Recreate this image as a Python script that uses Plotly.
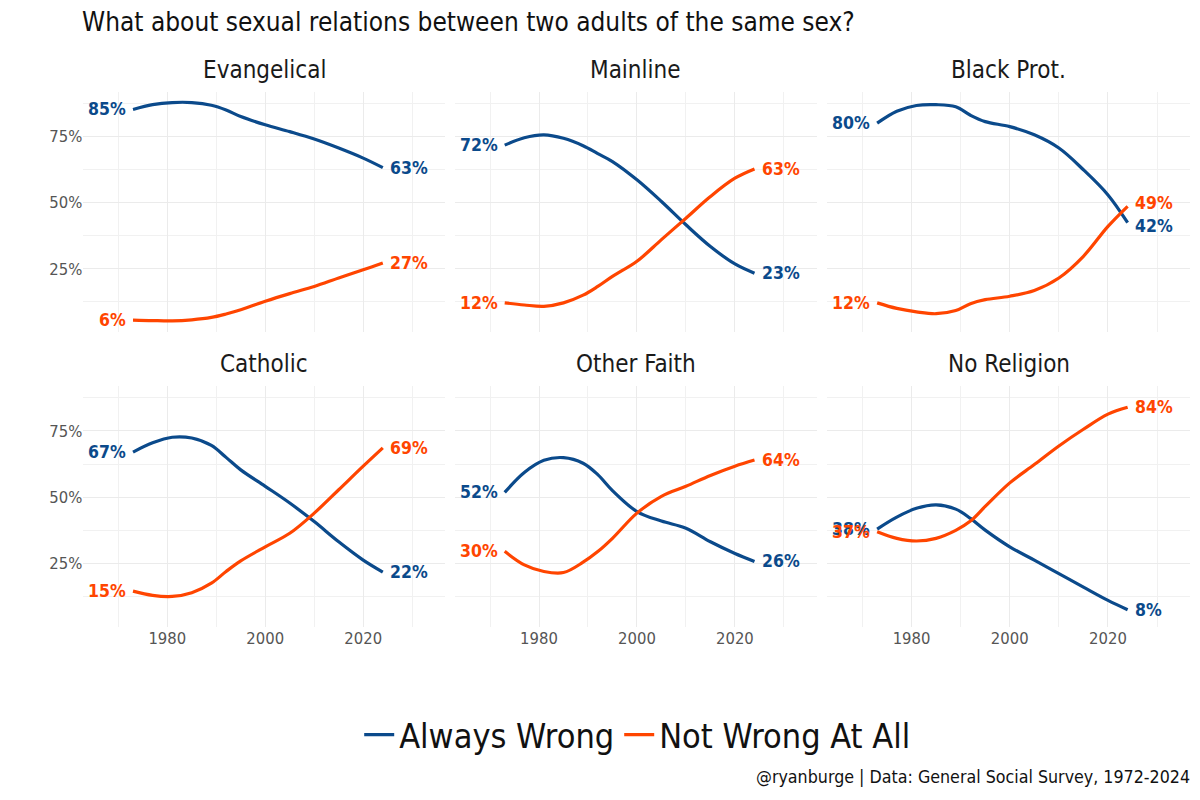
import plotly.graph_objects as go

YEARS = [1973, 1977, 1981, 1985, 1989, 1992, 1995, 2000, 2005, 2010, 2015, 2020, 2024]

PANELS = ["Evangelical", "Mainline", "Black Prot.", "Catholic", "Other Faith", "No Religion"]

ALWAYS_WRONG = {
    "Evangelical": [85.2, 87.0, 87.8, 87.8, 86.8, 85.0, 82.5, 79.4, 76.8, 74.0, 70.6, 66.8, 63.2],
    "Mainline":    [71.7, 74.5, 75.6, 74.3, 71.5, 68.5, 65.5, 58.6, 50.4, 41.6, 33.4, 26.8, 23.3],
    "Black Prot.": [80.0, 84.5, 86.7, 87.0, 86.2, 83.0, 80.6, 78.7, 75.6, 70.6, 62.4, 52.9, 42.4],
    "Catholic":    [67.0, 70.5, 72.6, 72.3, 69.5, 65.0, 60.3, 54.1, 47.8, 40.8, 33.2, 26.3, 21.8],
    "Other Faith": [51.8, 59.3, 63.9, 64.9, 62.8, 58.5, 52.5, 44.6, 41.0, 38.3, 33.2, 28.8, 25.8],
    "No Religion": [38.0, 42.5, 45.8, 47.1, 45.5, 42.0, 37.6, 31.3, 26.3, 21.2, 16.1, 11.1, 7.6],
}

NOT_WRONG = {
    "Evangelical": [5.6, 5.4, 5.3, 5.7, 6.6, 7.9, 9.5, 12.7, 15.6, 18.3, 21.5, 24.6, 27.2],
    "Mainline":    [12.1, 11.3, 10.8, 12.1, 15.0, 18.3, 22.1, 27.8, 36.0, 44.1, 52.3, 59.2, 62.7],
    "Black Prot.": [12.1, 10.0, 8.7, 8.0, 9.2, 11.8, 13.3, 14.6, 16.8, 21.5, 29.7, 41.0, 48.6],
    "Catholic":    [14.6, 13.0, 12.6, 14.0, 17.6, 22.0, 26.0, 31.3, 36.4, 44.0, 52.8, 61.7, 68.6],
    "Other Faith": [29.6, 24.5, 22.0, 21.6, 25.5, 29.5, 34.5, 44.0, 50.3, 54.1, 58.2, 61.7, 64.0],
    "No Religion": [37.0, 34.5, 33.5, 34.5, 37.5, 41.0, 46.5, 55.4, 62.3, 69.3, 75.6, 81.3, 83.9],
}

SERIES = ["Always Wrong", "Not Wrong At All"]
COLORS = {"Always Wrong": "#0B4A8B", "Not Wrong At All": "#FF4500"}
Y_TICKS = [25, 50, 75]
Y_TICKTEXT = ["25%", "50%", "75%"]
X_TICKS = [1980, 2000, 2020]

TITLE = "What about sexual relations between two adults of the same sex?"
CAPTION = "@ryanburge | Data: General Social Survey, 1972-2024"

FONT = "DejaVu Sans Condensed, Liberation Sans Narrow, Roboto, sans-serif"
W, H = 1200, 800

# panel pixel geometry
COLS = [(83.3, 445.0), (455.0, 816.7), (827.3, 1190.0)]
ROWS = [(91.7, 331.7), (386.0, 626.7)]

fig = go.Figure()
layout = {}
annotations = []

for i, panel in enumerate(PANELS):
    r, c = divmod(i, 3)
    n = i + 1
    xa = "x" if n == 1 else f"x{n}"
    ya = "y" if n == 1 else f"y{n}"
    xkey = "xaxis" if n == 1 else f"xaxis{n}"
    ykey = "yaxis" if n == 1 else f"yaxis{n}"
    x0, x1 = COLS[c]
    y0, y1 = ROWS[r]
    layout[xkey] = dict(
        domain=[x0 / W, x1 / W], anchor=ya, range=[1962.85, 2036.7],
        tickmode="array", tickvals=X_TICKS, ticktext=[str(v) for v in X_TICKS],
        showticklabels=(r == 1),
        showgrid=True, gridcolor="#EBEBEB", gridwidth=1.1,
        minor=dict(tickvals=[1970, 1990, 2010, 2030], showgrid=True, gridcolor="#F1F1F1", gridwidth=0.8),
        zeroline=False, showline=False, ticks="", fixedrange=True,
        tickfont=dict(family=FONT, size=16.5, color="#555555"),
    )
    layout[ykey] = dict(
        domain=[1 - y1 / H, 1 - y0 / H], anchor=xa, range=[1.2, 91.9],
        tickmode="array", tickvals=Y_TICKS, ticktext=Y_TICKTEXT,
        showticklabels=(c == 0),
        showgrid=True, gridcolor="#EBEBEB", gridwidth=1.1,
        minor=dict(tickvals=[12.5, 37.5, 62.5, 87.5], showgrid=True, gridcolor="#F1F1F1", gridwidth=0.8),
        zeroline=False, showline=False, ticks="", fixedrange=True,
        tickfont=dict(family=FONT, size=16.5, color="#555555"),
    )
    ends = []
    for s, data in zip(SERIES, [ALWAYS_WRONG, NOT_WRONG]):
        vals = data[panel]
        col = COLORS[s]
        fig.add_trace(go.Scatter(
            x=YEARS, y=vals, mode="lines", xaxis=xa, yaxis=ya,
            line=dict(color=col, width=3.2, shape="spline", smoothing=1.0),
            name=s, legendgroup=s, showlegend=(i == 0), hoverinfo="skip",
        ))
        ends.append((vals[-1], col))
        annotations.append(dict(
            text=f"<b>{round(vals[0])}%</b>", x=YEARS[0], y=vals[0], xref=xa, yref=ya,
            xanchor="right", yanchor="middle", xshift=-5, showarrow=False,
            font=dict(family=FONT, size=17.5, color=col),
        ))
    # right-hand labels: nudge apart slightly when the two end values are close
    (va, ca), (vb, cb) = ends
    close = abs(va - vb) < 8
    for v, col, other in [(va, ca, vb), (vb, cb, va)]:
        ys = (3 if v > other else -3) if close else 0
        annotations.append(dict(
            text=f"<b>{round(v)}%</b>", x=YEARS[-1], y=v, xref=xa, yref=ya,
            xanchor="left", yanchor="middle", xshift=5, yshift=ys, showarrow=False,
            font=dict(family=FONT, size=17.5, color=col),
        ))

for i, panel in enumerate(PANELS):
    r, c = divmod(i, 3)
    x0, x1 = COLS[c]
    ty = 70 if r == 0 else 364
    annotations.append(dict(
        text=panel, x=(x0 + x1) / 2 / W, y=1 - ty / H, xref="paper", yref="paper",
        xanchor="center", yanchor="middle", showarrow=False,
        font=dict(family=FONT, size=24, color="#1A1A1A"),
    ))
annotations.append(dict(
    text=TITLE, x=80 / W, y=1 - 22 / H, xref="paper", yref="paper",
    xanchor="left", yanchor="middle", showarrow=False,
    font=dict(family=FONT, size=26, color="#111111"),
))
annotations.append(dict(
    text=CAPTION, x=1192 / W, y=1 - 777 / H, xref="paper", yref="paper",
    xanchor="right", yanchor="middle", showarrow=False,
    font=dict(family=FONT, size=17.7, color="#111111"),
))

fig.update_layout(
    width=W, height=H,
    margin=dict(l=0, r=0, t=0, b=0),
    paper_bgcolor="white", plot_bgcolor="white",
    showlegend=True,
    legend=dict(
        orientation="h", x=0.531, xanchor="center", y=1 - 735 / H, yanchor="middle",
        font=dict(family=FONT, size=34, color="#111111"),
        itemwidth=30, tracegroupgap=0, bgcolor="rgba(0,0,0,0)",
    ),
    annotations=annotations,
    **layout,
)

fig.write_html("out.html", config={"displayModeBar": False},
               post_script="document.body.style.margin='0';")
